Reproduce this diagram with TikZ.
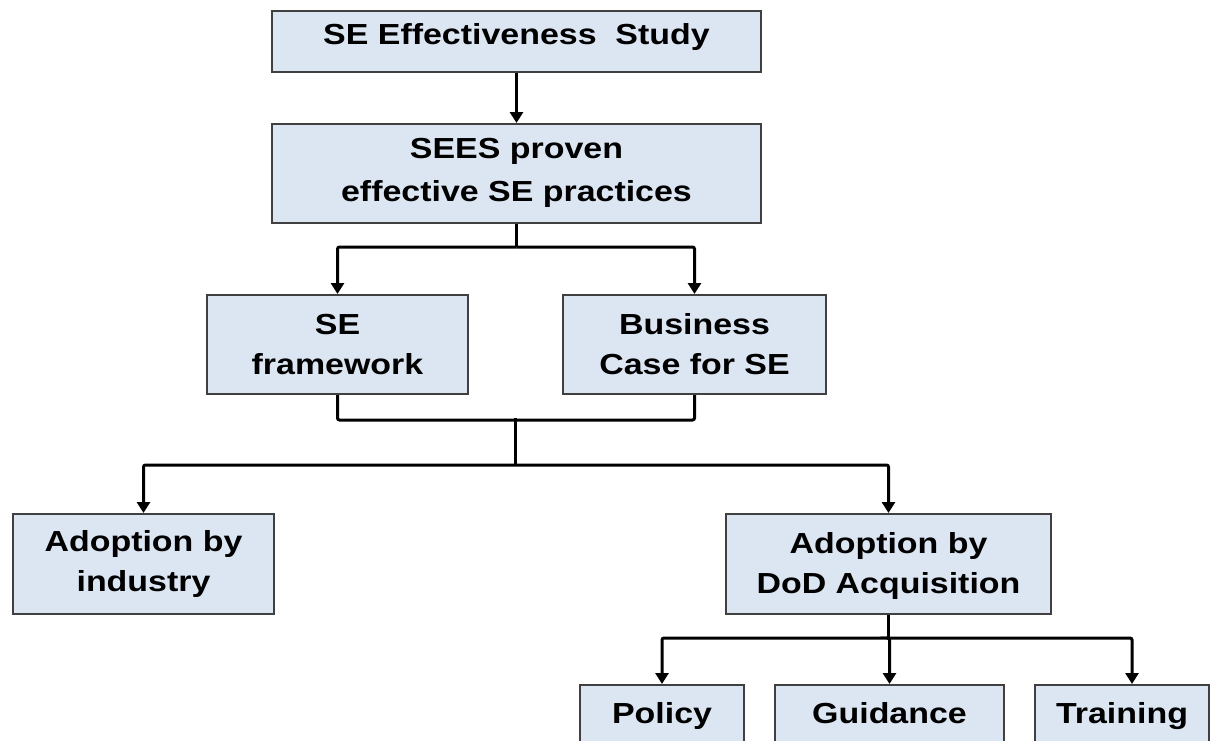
\documentclass[tikz,border=0pt]{standalone}
\usepackage{fontspec}
\setmainfont{Liberation Sans}[FakeStretch=1.17]
\usetikzlibrary{arrows.meta}
\definecolor{boxfill}{HTML}{DCE6F2}
\begin{document}
\begin{tikzpicture}[x=1pt,y=-1pt,
  box/.style={draw=black!75, line width=2pt, fill=boxfill, inner sep=0pt,
    anchor=north west, align=center, font=\fontsize{29}{40}\selectfont\bfseries},
  conn/.style={line width=3pt, black, rounded corners=2pt},
  arr/.style={conn, -{Triangle[width=13pt,length=11pt]}}]
\clip (0,0) rectangle (1210,740);
\fill[white] (0,0) rectangle (1210,740);
\node[box, minimum width=489pt, text height=33pt, text depth=28pt] (b1) at (271,10) {SE Effectiveness\ \ Study};
\node[box, minimum width=489pt, text height=77pt, text depth=22pt, font=\fontsize{29}{43}\selectfont\bfseries] (b2) at (271,123) {SEES proven\\effective SE practices};
\node[box, minimum width=261pt, text height=79pt, text depth=20pt] (b3) at (206,294) {SE\\framework};
\node[box, minimum width=263pt, text height=79pt, text depth=20pt] (b4) at (562,294) {Business\\Case for SE};
\node[box, minimum width=261pt, text height=77pt, text depth=23pt] (b5) at (12,513) {Adoption by\\industry};
\node[box, minimum width=325pt, text height=79pt, text depth=21pt] (b6) at (725,513) {Adoption by\\DoD Acquisition};
\node[box, minimum width=164pt, text height=38pt, text depth=50pt] (b7) at (579,684) {Policy};
\node[box, minimum width=229pt, text height=38pt, text depth=50pt] (b8) at (774,684) {Guidance};
\node[box, minimum width=174pt, text height=38pt, text depth=50pt] (b9) at (1034,684) {Training};

\draw[arr] (b1.south) -- (b2.north);
\path (b2.south) ++(0,23) coordinate (j1);
\draw[conn] (b2.south) -- (j1);
\draw[arr] (j1) -| (b3.north);
\draw[arr] (j1) -| (b4.north);
\path (b3.south) ++(0,25) coordinate (j2a);
\draw[conn] (b3.south) -- (j2a) -| (b4.south);
\coordinate (j2) at (515,418);
\coordinate (j3) at (515,465);
\draw[conn] (j2) -- (j3);
\draw[arr] (j3) -| (b5.north);
\draw[arr] (j3) -| (b6.north);
\path (b6.south) ++(0,23) coordinate (j4);
\draw[conn] (b6.south) -- (j4);
\draw[arr] (j4) -| (b7.north);
\draw[arr] (j4) -| (b8.north);
\draw[arr] (j4) -| ([xshift=10pt]b9.north);
\end{tikzpicture}
\end{document}
